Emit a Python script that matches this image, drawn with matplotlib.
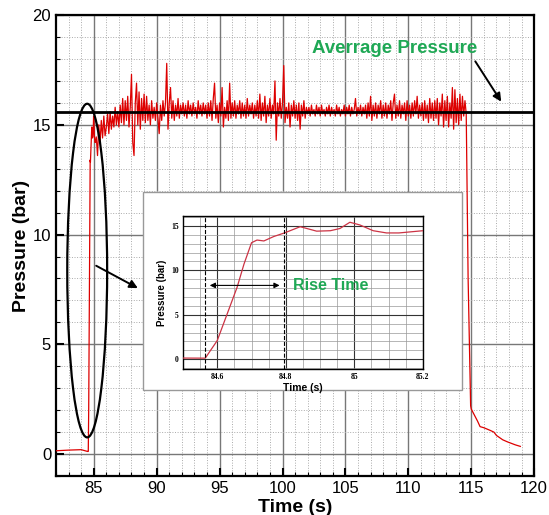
import matplotlib
matplotlib.use('Agg')
import matplotlib.pyplot as plt
from matplotlib.patches import Ellipse, Rectangle
from matplotlib.ticker import MultipleLocator

plt.rcParams['font.family'] = ['Liberation Sans', 'DejaVu Sans']

# pressure trace
base_time = [82.0, 83.0, 84.0, 84.5, 84.565]
base_pressure = [0.15, 0.18, 0.2, 0.12, 0.12]

rise_time = [84.6, 84.629, 84.658, 84.678, 84.70, 84.716, 84.736, 84.765, 84.796,
             84.842, 84.89, 84.93, 84.958, 84.987, 85.016, 85.055, 85.094, 85.13, 85.2]
rise_pressure = [2.1, 5.1, 8.1, 10.7, 13.1, 13.4, 13.3, 13.8, 14.2,
                 14.9, 14.4, 14.45, 14.7, 15.4, 15.1, 14.45, 14.2, 14.2, 14.45]

noise_time = [
    85.3, 85.4, 85.5, 85.6, 85.7, 85.8, 85.9, 86.0,
    86.1, 86.2, 86.3, 86.4, 86.5, 86.6, 86.7, 86.8, 86.9, 87.0,
    87.1, 87.2, 87.3, 87.4, 87.5, 87.6, 87.7, 87.8, 87.9, 88.0,
    88.1, 88.2, 88.3, 88.4, 88.5, 88.6, 88.7, 88.8, 88.9, 89.0,
    89.1, 89.2, 89.3, 89.4, 89.5, 89.6, 89.7, 89.8, 89.9, 90.0,
    90.1, 90.2, 90.3, 90.4, 90.5, 90.6, 90.7, 90.8, 90.9, 91.0,
    91.1, 91.2, 91.3, 91.4, 91.5, 91.6, 91.7, 91.8, 91.9, 92.0,
    92.1, 92.2, 92.3, 92.4, 92.5, 92.6, 92.7, 92.8, 92.9, 93.0,
    93.1, 93.2, 93.3, 93.4, 93.5, 93.6, 93.7, 93.8, 93.9, 94.0,
    94.1, 94.2, 94.3, 94.4, 94.5, 94.6, 94.7, 94.8, 94.9, 95.0,
    95.1, 95.2, 95.3, 95.4, 95.5, 95.6, 95.7, 95.8, 95.9, 96.0,
    96.1, 96.2, 96.3, 96.4, 96.5, 96.6, 96.7, 96.8, 96.9, 97.0,
    97.1, 97.2, 97.3, 97.4, 97.5, 97.6, 97.7, 97.8, 97.9, 98.0,
    98.1, 98.2, 98.3, 98.4, 98.5, 98.6, 98.7, 98.8, 98.9, 99.0,
    99.1, 99.2, 99.3, 99.4, 99.5, 99.6, 99.7, 99.8, 99.9, 100.0,
    100.1, 100.2, 100.3, 100.4, 100.5, 100.6, 100.7, 100.8, 100.9, 101.0,
    101.1, 101.2, 101.3, 101.4, 101.5, 101.6, 101.7, 101.8, 101.9, 102.0,
    102.1, 102.2, 102.3, 102.4, 102.5, 102.6, 102.7, 102.8, 102.9, 103.0,
    103.1, 103.2, 103.3, 103.4, 103.5, 103.6, 103.7, 103.8, 103.9, 104.0,
    104.1, 104.2, 104.3, 104.4, 104.5, 104.6, 104.7, 104.8, 104.9, 105.0,
    105.1, 105.2, 105.3, 105.4, 105.5, 105.6, 105.7, 105.8, 105.9, 106.0,
    106.1, 106.2, 106.3, 106.4, 106.5, 106.6, 106.7, 106.8, 106.9, 107.0,
    107.1, 107.2, 107.3, 107.4, 107.5, 107.6, 107.7, 107.8, 107.9, 108.0,
    108.1, 108.2, 108.3, 108.4, 108.5, 108.6, 108.7, 108.8, 108.9, 109.0,
    109.1, 109.2, 109.3, 109.4, 109.5, 109.6, 109.7, 109.8, 109.9, 110.0,
    110.1, 110.2, 110.3, 110.4, 110.5, 110.6, 110.7, 110.8, 110.9, 111.0,
    111.1, 111.2, 111.3, 111.4, 111.5, 111.6, 111.7, 111.8, 111.9, 112.0,
    112.1, 112.2, 112.3, 112.4, 112.5, 112.6, 112.7, 112.8, 112.9, 113.0,
    113.1, 113.2, 113.3, 113.4, 113.5, 113.6, 113.7, 113.8, 113.9, 114.0,
    114.1, 114.2, 114.3, 114.4, 114.5, 114.6]
noise_pressure = [
    13.6, 15.0, 14.2, 15.2, 14.4, 15.4, 14.5, 14.9,
    15.5, 14.6, 15.6, 14.8, 15.4, 14.9, 15.8, 15.0, 15.6, 14.9,
    15.9, 15.1, 16.2, 15.0, 16.1, 15.2, 16.3, 14.9, 15.8, 17.3,
    14.2, 13.6, 16.0, 16.9, 15.0, 16.5, 14.8, 16.2, 15.2, 16.4,
    15.1, 16.3, 15.2, 15.9, 15.0, 16.1, 15.3, 15.8, 15.2, 16.0,
    15.3, 14.6, 15.9, 15.2, 16.1, 15.4, 16.0, 17.8, 14.8, 16.0,
    16.7, 15.3, 16.1, 15.2, 15.9, 15.4, 16.2, 15.3, 15.9, 15.5,
    16.0, 15.4, 15.9, 15.3, 16.1, 15.5, 15.9, 15.4, 16.0, 15.5,
    15.8, 15.3, 16.1, 15.5, 15.9, 15.4, 16.0, 15.5, 15.9, 15.3,
    16.0, 15.4, 16.1, 15.2, 16.2, 16.9, 15.3, 15.9, 15.1, 16.0,
    15.4, 16.7, 14.9, 15.8, 15.3, 16.1, 15.2, 16.9, 15.3, 16.0,
    15.4, 16.1, 15.3, 15.9, 15.5, 16.1, 15.3, 16.0, 15.4, 15.9,
    15.3, 16.2, 15.4, 15.9, 15.5, 16.0, 15.3, 15.9, 15.4, 16.1,
    15.3, 16.4, 15.2, 16.0, 15.4, 16.3, 15.1, 15.9, 15.4, 16.2,
    15.3, 15.9, 15.5, 17.0, 14.3, 16.0, 15.4, 16.2, 15.3, 16.0,
    17.7, 15.1, 15.8, 15.3, 16.0, 14.9, 15.9, 15.4, 16.1, 15.3,
    15.9, 15.2, 16.0, 14.8, 15.9, 15.4, 16.1, 15.3, 15.8, 15.5,
    15.8, 15.4, 15.9, 15.5, 15.7, 15.4, 15.9, 15.5, 15.8, 15.4,
    15.9, 15.5, 15.7, 15.4, 15.8, 15.5, 15.9, 15.4, 15.8, 15.5,
    15.7, 15.4, 15.9, 15.5, 15.8, 15.4, 15.7, 15.5, 15.9, 15.4,
    15.8, 15.5, 15.9, 15.4, 15.8, 15.5, 15.7, 16.2, 15.4, 15.8,
    15.5, 15.9, 15.4, 15.8, 15.5, 15.9, 15.3, 16.0, 15.4, 16.3,
    15.2, 15.9, 15.4, 16.0, 15.3, 15.9, 15.5, 16.1, 15.3, 15.9,
    15.4, 16.0, 15.3, 15.9, 15.5, 16.1, 15.2, 16.0, 16.4, 15.3,
    15.9, 15.4, 16.1, 15.3, 15.9, 15.5, 16.0, 15.2, 16.1, 15.4,
    15.9, 15.3, 16.0, 15.4, 16.1, 15.5, 16.3, 15.3, 15.9, 15.4,
    16.0, 15.2, 16.1, 15.3, 15.9, 15.1, 16.2, 15.3, 16.0, 15.2,
    16.1, 15.3, 16.2, 15.0, 16.0, 15.4, 16.4, 14.9, 16.1, 15.2,
    16.3, 14.9, 16.0, 15.3, 16.7, 14.8, 16.6, 15.1, 16.2, 15.0,
    16.4, 15.2, 16.3, 15.4, 16.1, 15.5]

tail_time = [114.75, 114.95, 115.0, 115.5, 115.7, 116.0, 116.5, 116.8, 117.0,
             117.5, 117.9, 118.5, 118.9]
tail_pressure = [8.0, 2.2, 2.05, 1.5, 1.25, 1.2, 1.08, 1.0, 0.85,
                 0.65, 0.55, 0.42, 0.35]

time = base_time + rise_time + noise_time + tail_time
pressure = base_pressure + rise_pressure + noise_pressure + tail_pressure

avg_pressure = 15.6
rise_start, rise_end = 84.565, 84.795
green = '#1fa855'

fig = plt.figure(figsize=(5.49, 5.15), dpi=100)
ax = fig.add_axes([0.102, 0.0757, 0.871, 0.895])

ax.plot(time, pressure, color='#dd0000', lw=0.9, zorder=3)
ax.axhline(avg_pressure, color='k', lw=2, zorder=4)

ax.set_xlim(82, 120)
ax.set_ylim(-1, 20)
ax.xaxis.set_major_locator(MultipleLocator(5))
ax.xaxis.set_minor_locator(MultipleLocator(1))
ax.yaxis.set_major_locator(MultipleLocator(5))
ax.yaxis.set_minor_locator(MultipleLocator(1))
ax.grid(which='major', color='#777777', lw=1, zorder=1)
ax.grid(which='minor', color='#aaaaaa', lw=0.7, ls=':', zorder=1)
ax.tick_params(which='major', direction='in', length=6, width=1.5, labelsize=12)
ax.tick_params(which='minor', direction='in', length=3, width=0.8)
for s in ax.spines.values():
    s.set_linewidth(1.6)
ax.set_xlabel('Time (s)', fontsize=14, fontweight='bold', labelpad=2)
ax.set_ylabel('Pressure (bar)', fontsize=14, fontweight='bold', labelpad=2)

# ellipse round the rise, with arrow to the inset
ax.add_patch(Ellipse((84.48, 8.36), 3.17, 15.2, fill=False, ec='k', lw=1.6, zorder=5))
ax.annotate('', xy=(88.7, 7.5), xytext=(85.0, 8.64),
            arrowprops=dict(arrowstyle='-|>', color='k', lw=1.4, mutation_scale=12), zorder=5)

ax.text(108.9, 18.5, 'Averrage Pressure', color=green, fontsize=13.5, fontweight='bold',
        ha='center', va='center', zorder=6)
ax.annotate('', xy=(117.5, 15.95), xytext=(115.2, 18.0),
            arrowprops=dict(arrowstyle='-|>', color='k', lw=1.4, mutation_scale=12), zorder=6)

# inset frame
fig.patches.append(Rectangle((0.2605, 0.2427), 0.581, 0.3845, transform=fig.transFigure,
                             facecolor='white', edgecolor='#999999', lw=1, zorder=10))

ins = fig.add_axes([0.3333, 0.2835, 0.437, 0.297], zorder=11)
ins.plot(time, pressure, color='#cc3344', lw=0.9, zorder=3)
ins.set_xlim(84.5, 85.2)
ins.set_ylim(-1.1, 16.1)
ins.xaxis.set_minor_locator(MultipleLocator(0.05))
ins.yaxis.set_major_locator(MultipleLocator(5))
ins.yaxis.set_minor_locator(MultipleLocator(1))
ins.set_xticks([84.6, 84.8, 85.0, 85.2])
ins.set_xticklabels(['84.6', '84.8', '85', '85.2'])
ins.grid(which='major', color='#333333', lw=0.8)
ins.grid(which='minor', color='#999999', lw=0.5)
ins.tick_params(which='both', direction='in', length=0, labelsize=5.5, pad=3)
for lab in ins.get_xticklabels() + ins.get_yticklabels():
    lab.set_family(['Liberation Serif', 'DejaVu Serif'])
    lab.set_fontweight('bold')
for s in ins.spines.values():
    s.set_linewidth(1)
ins.set_xlabel('Time (s)', fontsize=7.5, fontweight='bold', labelpad=1)
ins.set_ylabel('Pressure (bar)', fontsize=7, fontweight='bold', labelpad=3)

ins.axvline(rise_start, color='k', lw=0.8, ls='--', zorder=4)
ins.axvline(rise_end, color='k', lw=0.8, ls='--', zorder=4)
ins.annotate('', xy=(rise_start + 0.005, 8.3), xytext=(rise_end - 0.005, 8.3),
             arrowprops=dict(arrowstyle='<|-|>', color='k', lw=0.8, mutation_scale=8))
ins.text(84.82, 8.3, 'Rise Time', color=green, fontsize=11.5, fontweight='bold',
         ha='left', va='center')

fig.savefig('out.png', dpi=100)
